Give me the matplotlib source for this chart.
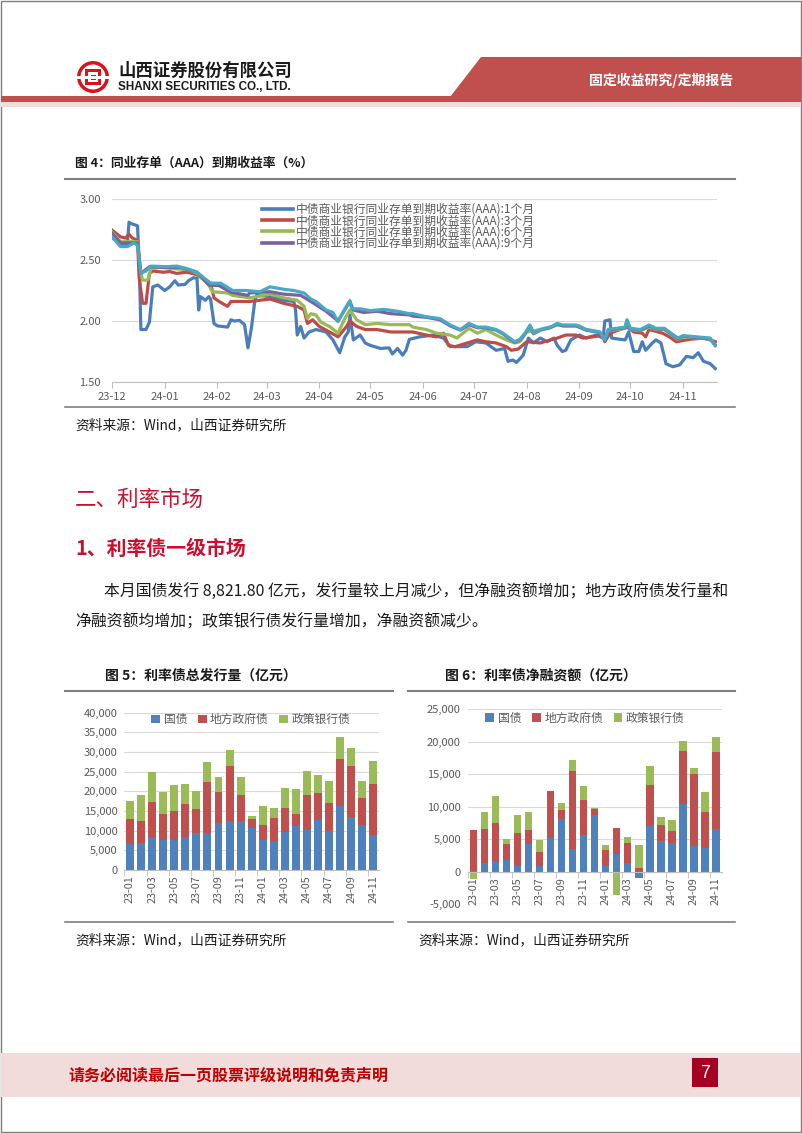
import numpy as np
import matplotlib
matplotlib.use('Agg')
import matplotlib.pyplot as plt
import matplotlib.dates as mdates
from matplotlib.patches import Rectangle, Polygon, Circle
from matplotlib.ticker import FuncFormatter, FixedLocator

plt.rcParams['font.family'] = ['Noto Sans CJK SC', 'DejaVu Sans']
plt.rcParams['axes.unicode_minus'] = False

# ---------------- data: figure 4 (day offset from 2023-12-01, yield %) ----------------
start_date = '2023-12-01'
ncd_1m = [(0,2.68),(3,2.66),(7,2.62),(9,2.62),(10,2.81),(11,2.80),(13,2.79),(15,2.78),(16,2.49),(17,1.93),
          (20,1.93),(22,1.99),(24,2.28),(27,2.295),(31,2.25),(34,2.28),(37,2.33),(39,2.295),(43,2.30),(45,2.33),
          (48,2.355),(50,2.35),(51,2.09),(52,2.20),(55,2.17),(57,2.20),(58,2.18),(60,1.98),(62,1.96),(68,1.95),
          (70,2.01),(72,2.00),(75,2.005),(78,1.97),(80,1.78),(82,1.94),(84,2.16),(85,2.21),(93,2.20),(101,2.17),
          (107,2.16),(108,2.09),(109,1.885),(111,1.955),(113,1.86),(116,1.91),(120,1.93),(126,1.91),(130,1.845),
          (134,1.74),(137,1.87),(139,1.91),(140,2.05),(142,1.845),(146,1.885),(149,1.82),(152,1.80),(158,1.775),
          (163,1.78),(165,1.73),(168,1.775),(171,1.72),(173,1.76),(175,1.85),(181,1.87),(189,1.885),(195,1.86),
          (199,1.79),(209,1.79),(214,1.83),(220,1.82),(226,1.76),(231,1.775),(233,1.67),(236,1.68),(238,1.66),
          (242,1.72),(245,1.86),(248,1.82),(252,1.86),(256,1.83),(260,1.86),(262,1.80),(265,1.75),(267,1.76),
          (270,1.845),(275,1.885),(279,1.86),(285,1.885),(289,1.86),(290,2.00),(293,2.01),(294,1.86),(299,1.85),
          (302,1.845),(304,1.91),(307,1.75),(310,1.75),(312,1.83),(314,1.76),(318,1.82),(320,1.845),(323,1.82),
          (326,1.65),(330,1.625),(334,1.64),(338,1.71),(342,1.70),(345,1.74),(348,1.67),(352,1.65),(355,1.61)]
ncd_3m = [(0,2.745),(5,2.69),(8,2.68),(10,2.71),(12,2.68),(15,2.66),(16,2.35),(18,2.145),(20,2.145),(22,2.39),
          (24,2.41),(30,2.40),(34,2.405),(38,2.39),(44,2.40),(50,2.38),(54,2.34),(58,2.31),(60,2.19),(63,2.16),
          (68,2.12),(70,2.16),(75,2.16),(81,2.16),(93,2.18),(101,2.145),(109,2.12),(113,2.09),(115,1.98),(118,2.01),
          (122,1.955),(128,1.91),(133,1.87),(138,1.955),(140,2.00),(144,1.955),(149,1.93),(156,1.93),(164,1.91),
          (171,1.91),(177,1.91),(185,1.885),(191,1.87),(195,1.90),(198,1.80),(202,1.79),(209,1.82),(215,1.845),
          (220,1.83),(226,1.82),(232,1.79),(235,1.76),(239,1.77),(244,1.83),(252,1.82),(258,1.845),(262,1.86),
          (267,1.885),(273,1.885),(277,1.86),(283,1.87),(289,1.885),(290,1.83),(293,1.90),(303,1.95),(307,1.91),
          (312,1.90),(314,1.87),(316,1.93),(324,1.90),(328,1.87),(332,1.83),(340,1.85),(348,1.86),(352,1.845),(355,1.83)]
ncd_6m = [(0,2.73),(5,2.65),(10,2.65),(15,2.65),(17,2.39),(18,2.335),(21,2.335),(23,2.43),(28,2.44),(35,2.43),
          (45,2.42),(50,2.39),(57,2.295),(59,2.24),(68,2.23),(71,2.21),(81,2.19),(93,2.22),(101,2.19),(109,2.17),
          (113,2.12),(115,2.02),(117,2.06),(120,2.05),(123,1.99),(128,1.955),(133,1.90),(137,2.02),(140,2.09),
          (144,2.01),(149,1.97),(156,1.98),(164,1.97),(175,1.97),(177,1.95),(185,1.93),(191,1.90),(199,1.885),
          (203,1.86),(210,1.94),(215,1.90),(220,1.93),(226,1.885),(232,1.845),(237,1.82),(240,1.83),(244,1.91),
          (252,1.93),(262,1.967),(267,1.96),(275,1.96),(279,1.93),(287,1.91),(290,1.85),(292,1.92),(298,1.93),
          (302,1.94),(303,1.99),(305,1.93),(311,1.92),(316,1.95),(320,1.93),(325,1.93),(329,1.89),(333,1.85),
          (336,1.87),(346,1.86),(352,1.85),(355,1.80)]
ncd_9m = [(0,2.72),(5,2.64),(10,2.64),(15,2.64),(17,2.39),(22,2.445),(30,2.44),(40,2.44),(50,2.40),(57,2.295),
          (63,2.29),(70,2.235),(80,2.21),(81,2.23),(93,2.24),(101,2.22),(111,2.21),(117,2.16),(126,2.08),(133,2.00),
          (140,2.16),(142,2.09),(148,2.07),(156,2.08),(164,2.06),(175,2.05),(177,2.04),(185,2.03),(193,2.01),
          (199,1.96),(205,1.925),(210,1.97),(215,1.945),(220,1.945),(226,1.925),(230,1.895),(234,1.855),(237,1.825),
          (240,1.845),(243,1.895),(246,1.96),(248,1.895),(252,1.925),(258,1.945),(262,1.975),(265,1.96),(273,1.96),
          (279,1.925),(287,1.905),(290,1.84),(292,1.925),(297,1.935),(302,1.945),(303,2.00),(305,1.935),(311,1.925),
          (316,1.96),(320,1.935),(325,1.935),(329,1.895),(333,1.855),(336,1.875),(344,1.865),(352,1.855),(355,1.80)]
ncd_1y = [(0,2.69),(5,2.61),(9,2.61),(13,2.64),(15,2.62),(17,2.39),(20,2.41),(23,2.45),(32,2.445),(38,2.45),
          (44,2.43),(50,2.40),(58,2.31),(64,2.31),(71,2.25),(79,2.25),(87,2.24),(93,2.28),(101,2.26),(107,2.25),
          (113,2.23),(117,2.18),(120,2.16),(126,2.09),(130,2.07),(133,1.995),(137,2.10),(140,2.167),(141,2.10),
          (146,2.10),(152,2.085),(160,2.095),(168,2.08),(175,2.06),(177,2.06),(185,2.035),(193,2.02),(199,1.967),
          (205,1.93),(210,1.98),(215,1.95),(220,1.95),(226,1.93),(230,1.90),(234,1.86),(237,1.83),(240,1.85),
          (243,1.90),(246,1.967),(248,1.90),(252,1.93),(258,1.95),(262,1.98),(265,1.967),(273,1.967),(279,1.93),
          (287,1.91),(290,1.845),(292,1.93),(297,1.94),(302,1.95),(303,2.01),(305,1.94),(311,1.93),(316,1.967),
          (320,1.94),(325,1.94),(329,1.90),(333,1.86),(336,1.88),(344,1.87),(352,1.86),(355,1.80)]
ncd_labels = ['中债商业银行同业存单到期收益率(AAA):1个月',
              '中债商业银行同业存单到期收益率(AAA):3个月',
              '中债商业银行同业存单到期收益率(AAA):6个月',
              '中债商业银行同业存单到期收益率(AAA):9个月']
ncd_yticks = [1.50, 2.00, 2.50, 3.00]

# ---------------- data: figures 5 & 6 (亿元) ----------------
months = ['23-01','23-02','23-03','23-04','23-05','23-06','23-07','23-08','23-09','23-10','23-11','23-12',
          '24-01','24-02','24-03','24-04','24-05','24-06','24-07','24-08','24-09','24-10','24-11']
bond_types = ['国债', '地方政府债', '政策银行债']
issue_gov    = [6610, 6950, 8480, 7630, 7630, 8480, 9490, 9490, 11870, 12460, 12540, 10590,
                7630, 7460, 9580, 11190, 10170, 12710, 10000, 16270, 13560, 11440, 8822]
issue_local  = [6270, 5590, 8890, 6610, 7460, 8220, 6020, 12800, 7880, 13980, 6530, 2290,
                3810, 5680, 6270, 3050, 8900, 6950, 7120, 11870, 12880, 6780, 13050]
issue_policy = [4750, 6440, 7630, 5590, 6440, 5080, 4580, 5170, 3810, 4070, 4660, 850,
                4920, 2710, 5080, 6270, 6100, 4410, 5510, 5590, 4660, 4410, 5840]
net_gov    = [60, 1390, 1650, 1800, 880, 4320, 880, 5140, 8070, 3550, 5700, 8690,
              880, 2780, 1390, -1030, 7040, 4730, 4470, 10380, 3860, 3600, 6630]
net_local  = [6370, 5240, 5800, 2520, 5030, 2110, 2200, 7300, 1440, 11970, 5350, 920,
              2460, 4000, 2980, 620, 6270, 2410, 1800, 8120, 11150, 5650, 11720]
net_policy = [-1080, 2620, 4220, 670, 2830, 2780, 1800, 0, 1030, 1650, 2160, 160,
              770, -3600, 920, 3490, 2880, 1340, 1700, 1650, 920, 3030, 2420]

# ---------------- page ----------------
W, H = 802, 1133
fig = plt.figure(figsize=(W / 100, H / 100), dpi=100)

def rect(l, t, r, b):
    return [l / W, 1 - b / H, (r - l) / W, (b - t) / H]

bg = fig.add_axes([0, 0, 1, 1])
bg.set_xlim(0, W)
bg.set_ylim(H, 0)
bg.axis('off')

RED = '#C0504D'
TITLE_RED = '#C8102E'
GRAY_TXT = '#595959'
INK = '#1A1A1A'

# border
bg.add_patch(Rectangle((0.5, 0.5), W - 1.5, H - 1.5, fill=False, edgecolor='#7F7F7F', lw=1.0))
# header
bg.add_patch(Polygon([(481, 57), (801, 57), (801, 97), (450, 97)], closed=True, color=RED, lw=0))
bg.add_patch(Rectangle((1, 96), W - 2, 6, color=RED, lw=0))
bg.add_patch(Rectangle((1, 102), W - 2, 5, color='#F2DCDB', lw=0))
bg.text(661, 80, '固定收益研究/定期报告', color='white', fontsize=10, fontweight='bold',
        ha='center', va='center')
# logo
bg.add_patch(Circle((93, 77), 16, color='#D7141A', lw=0))
bg.add_patch(Circle((93, 77), 12.5, color='white', lw=0))
bg.add_patch(Rectangle((85, 69), 16, 16, color='#D7141A', lw=0))
bg.add_patch(Rectangle((88, 72), 10, 10, color='white', lw=0))
bg.add_patch(Rectangle((90.5, 74.5), 5, 5, color='#D7141A', lw=0))
bg.add_patch(Rectangle((76, 75.5), 34, 3, color='white', lw=0))
bg.text(118, 71, '山西证券股份有限公司', fontsize=12.5, fontweight='bold', color=INK, va='center')
bg.text(118, 87.5, 'SHANXI SECURITIES CO., LTD.', fontsize=8.4, fontweight='bold', color=INK,
        va='center', family=['Liberation Sans', 'DejaVu Sans'])

# figure 4 frame
bg.text(75, 163, '图 4：同业存单（AAA）到期收益率（%）', fontsize=9.2, fontweight='bold', color=INK, va='center')
bg.plot([65, 735], [179, 179], color='#7F7F7F', lw=1.5)
bg.plot([65, 735], [407, 407], color='#7F7F7F', lw=1.2)
bg.text(75, 425, '资料来源：Wind，山西证券研究所', fontsize=9.9, color=INK, va='center')

# section text
bg.text(75, 500, '二、利率市场', fontsize=15.5, color=TITLE_RED, va='center')
bg.text(75, 548, '1、利率债一级市场', fontsize=14.3, fontweight='bold', color=TITLE_RED, va='center')
bg.text(104, 592, '本月国债发行 8,821.80 亿元，发行量较上月减少，但净融资额增加；地方政府债发行量和',
        fontsize=11.4, color=INK, va='center')
bg.text(75, 622, '净融资额均增加；政策银行债发行量增加，净融资额减少。',
        fontsize=11.4, color=INK, va='center')

# figure 5/6 frames
bg.text(105, 676, '图 5：利率债总发行量（亿元）', fontsize=10, fontweight='bold', color=INK, va='center')
bg.text(445, 676, '图 6：利率债净融资额（亿元）', fontsize=10, fontweight='bold', color=INK, va='center')
bg.plot([65, 393], [691, 691], color='#7F7F7F', lw=1.5)
bg.plot([408, 735], [691, 691], color='#7F7F7F', lw=1.5)
bg.plot([65, 393], [922, 922], color='#7F7F7F', lw=1.2)
bg.plot([408, 735], [922, 922], color='#7F7F7F', lw=1.2)
bg.text(75, 940, '资料来源：Wind，山西证券研究所', fontsize=9.9, color=INK, va='center')
bg.text(418, 940, '资料来源：Wind，山西证券研究所', fontsize=9.9, color=INK, va='center')

# footer
bg.add_patch(Rectangle((1, 1053), W - 2, 44, color='#F2DCDB', lw=0))
bg.text(68, 1075, '请务必阅读最后一页股票评级说明和免责声明', fontsize=11.5, fontweight='bold',
        color='#C00000', va='center')
bg.add_patch(Rectangle((692, 1058), 26, 29, color='#A50021', lw=0))
bg.text(705, 1073, '7', fontsize=13, color='white', ha='center', va='center',
        family=['Liberation Sans', 'DejaVu Sans'])

# ---------------- figure 4: line chart ----------------
base = np.datetime64(start_date)
ax1 = fig.add_axes(rect(112, 199, 717, 382))
line_colors = ['#4A7EBB', '#BE4B48', '#98B954', '#7D60A0', '#46AAC5']
all_series = [ncd_1m, ncd_3m, ncd_6m, ncd_9m, ncd_1y]
for i, ser in enumerate(all_series):
    d = base + np.array([p[0] for p in ser]).astype('timedelta64[D]')
    v = [p[1] for p in ser]
    lab = ncd_labels[i] if i < len(ncd_labels) else '_nolegend_'
    ax1.plot(d, v, color=line_colors[i], lw=2.3, label=lab, solid_joinstyle='round')
ax1.set_xlim(base, base + np.timedelta64(356, 'D'))
ax1.set_ylim(1.5, 3.0)
ax1.set_yticks(ncd_yticks)
ax1.yaxis.set_major_formatter(FuncFormatter(lambda v, p: f'{v:.2f}'))
ax1.xaxis.set_major_locator(mdates.MonthLocator())
ax1.xaxis.set_major_formatter(mdates.DateFormatter('%y-%m'))
ax1.grid(axis='y', color='#D9D9D9', lw=0.8)
ax1.set_axisbelow(True)
for s in ['left', 'right', 'top']:
    ax1.spines[s].set_visible(False)
ax1.spines['bottom'].set_color('#BFBFBF')
ax1.tick_params(axis='y', length=0, labelsize=8, labelcolor=GRAY_TXT, pad=8)
ax1.tick_params(axis='x', length=4, color='#BFBFBF', labelsize=8, labelcolor=GRAY_TXT, pad=3)
leg1 = ax1.legend(loc='upper left', bbox_to_anchor=((262 - 112) / 605, (382 - 203) / 183),
                  frameon=False, fontsize=8.5, labelspacing=-0.15, handlelength=2.6,
                  handletextpad=0.3, borderpad=0, borderaxespad=0)
for t in leg1.get_texts():
    t.set_color(GRAY_TXT)
for h in leg1.get_lines():
    h.set_linewidth(2.6)

# ---------------- stacked bar helpers ----------------
bar_colors = ['#4F81BD', '#C0504D', '#9BBB59']

def stacked(ax, series, width):
    x = np.arange(len(months))
    pos = np.zeros(len(months))
    neg = np.zeros(len(months))
    for vals, col, lab in zip(series, bar_colors, bond_types):
        vals = np.array(vals, dtype=float)
        bottom = np.where(vals >= 0, pos, neg)
        ax.bar(x, vals, width, bottom=bottom, color=col, label=lab, lw=0)
        pos = pos + np.where(vals >= 0, vals, 0)
        neg = neg + np.where(vals < 0, vals, 0)
    ax.set_xlim(-0.5, len(months) - 0.5)
    ax.xaxis.set_major_locator(FixedLocator(x[::2]))
    ax.xaxis.set_minor_locator(FixedLocator(np.arange(-0.5, len(months), 2)))
    ax.set_xticklabels(months[::2], rotation=90)
    ax.tick_params(axis='x', which='major', length=0, labelsize=7.8, labelcolor=GRAY_TXT, pad=4)
    ax.tick_params(axis='x', which='minor', length=4, color='#BFBFBF')
    ax.tick_params(axis='y', length=0, labelsize=8, labelcolor=GRAY_TXT, pad=5)
    ax.yaxis.set_major_formatter(FuncFormatter(lambda v, p: f'{int(v):,}'))
    ax.grid(axis='y', color='#D9D9D9', lw=0.8)
    ax.set_axisbelow(True)
    for s in ['left', 'right', 'top']:
        ax.spines[s].set_visible(False)
    ax.spines['bottom'].set_color('#BFBFBF')

legend_kw = dict(loc='center', ncol=3, frameon=False, fontsize=8.5, handlelength=0.75,
                 handleheight=0.75, handletextpad=0.3, columnspacing=0.9, borderpad=0, borderaxespad=0)

# ---------------- figure 5 ----------------
ax5 = fig.add_axes(rect(124.5, 712.7, 378.8, 870))
stacked(ax5, [issue_gov, issue_local, issue_policy], 0.72)
ax5.set_ylim(0, 40000)
ax5.set_yticks(np.arange(0, 40001, 5000))
leg5 = ax5.legend(bbox_to_anchor=(0.497, 0.955), **legend_kw)
for t in leg5.get_texts():
    t.set_color(GRAY_TXT)

# ---------------- figure 6 ----------------
ax6 = fig.add_axes(rect(467.8, 709.3, 721.5, 904))
ax6.spines['bottom'].set_position(('data', 0))
stacked(ax6, [net_gov, net_local, net_policy], 0.68)
ax6.set_ylim(-5000, 25000)
ax6.set_yticks(np.arange(-5000, 25001, 5000))
leg6 = ax6.legend(bbox_to_anchor=(0.462, 0.955), **legend_kw)
for t in leg6.get_texts():
    t.set_color(GRAY_TXT)

fig.savefig('out.png', dpi=100)
